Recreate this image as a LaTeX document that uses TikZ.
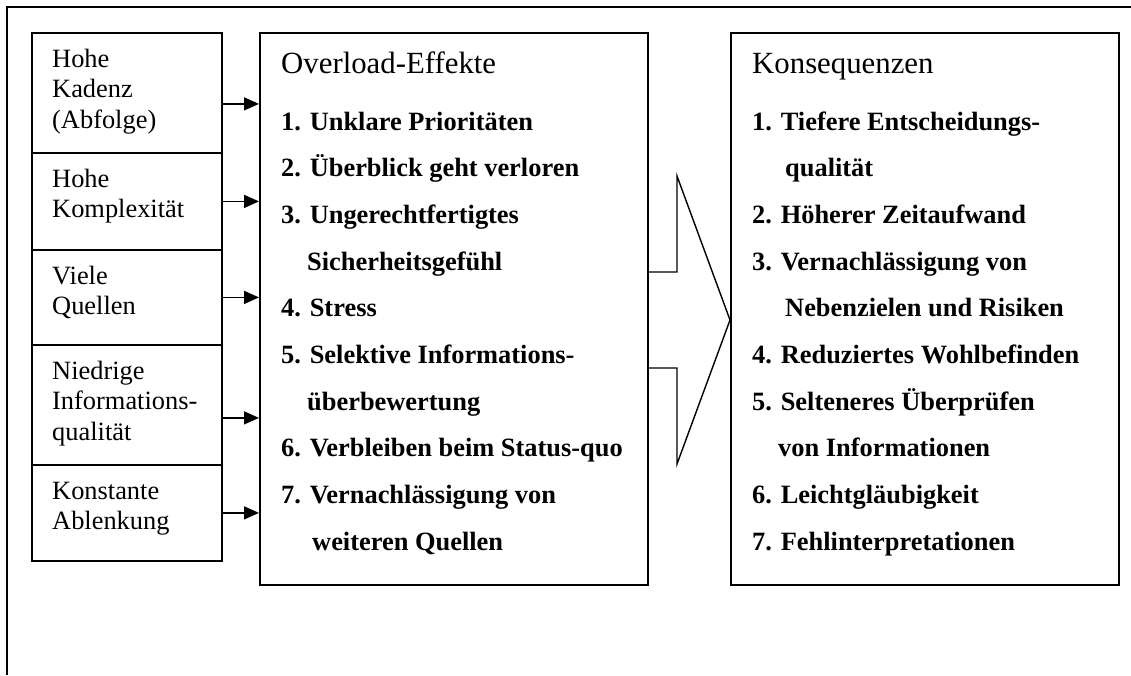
\documentclass[tikz,border=0pt]{standalone}
\usepackage{fontspec}
\setmainfont{Liberation Serif}
\usetikzlibrary{arrows.meta}
\begin{document}
\begin{tikzpicture}[x=1pt,y=-1pt,
  box/.style={draw,line width=1.8pt,inner sep=0pt,anchor=north west},
  cause/.style={anchor=base west,inner sep=0pt,font=\fontsize{26.4}{30}\selectfont},
  head/.style={anchor=base west,inner sep=0pt,font=\fontsize{30.8}{36}\selectfont},
  item/.style={anchor=base west,inner sep=0pt,font=\bfseries\fontsize{26.4}{30}\selectfont},
  feed/.style={line width=1.4pt,-{Triangle[length=15pt,width=13pt]}},
  frame/.style={line width=2pt},
  bigarrow/.style={line width=1.4pt,line join=miter}]
\useasboundingbox (0,0) rectangle (1131,675);

% outer frame (top and left edge)
\draw[frame] (7,675) -- (7,7) -- (1131,7);

% cause boxes
\node[box,minimum width=190pt,minimum height=120pt] (c1) at (31,32) {};
\node[box,minimum width=190pt,minimum height=97pt]  (c2) at (31,152) {};
\node[box,minimum width=190pt,minimum height=95pt]  (c3) at (31,249) {};
\node[box,minimum width=190pt,minimum height=120pt] (c4) at (31,344) {};
\node[box,minimum width=190pt,minimum height=96pt]  (c5) at (31,464) {};

\node[cause] (c1a) at (52,67)  {Hohe};
\node[cause] (c1b) at (52,97.5) {Kadenz};
\node[cause] (c1c) at (52,128) {(Abfolge)};
\node[cause] (c2a) at (52,187) {Hohe};
\node[cause] (c2b) at (52,217.5) {Komplexität};
\node[cause] (c3a) at (52,284) {Viele};
\node[cause] (c3b) at (52,314.5) {Quellen};
\node[cause] (c4a) at (52,379) {Niedrige};
\node[cause] (c4b) at (52,409.5) {Informations-};
\node[cause] (c4c) at (52,440) {qualität};
\node[cause] (c5a) at (52,499) {Konstante};
\node[cause] (c5b) at (52,529.5) {Ablenkung};

% effects and consequences boxes
\node[box,minimum width=388pt,minimum height=552pt] (eff) at (259,32) {};
\node[box,minimum width=388pt,minimum height=552pt] (kon) at (730,32) {};

\node[head] (effh) at (281,73) {Overload-Effekte};
\node[item] (e1)  at (281,130)   {1. Unklare Prioritäten};
\node[item] (e2)  at (281,176.7) {2. Überblick geht verloren};
\node[item] (e3)  at (281,223.4) {3. Ungerechtfertigtes};
\node[item] (e3b) at (307,270.1) {Sicherheitsgefühl};
\node[item] (e4)  at (281,316.8) {4. Stress};
\node[item] (e5)  at (281,363.5) {5. Selektive Informations-};
\node[item] (e5b) at (307,410.2) {überbewertung};
\node[item] (e6)  at (281,456.9) {6. Verbleiben beim Status-quo};
\node[item] (e7)  at (281,503.6) {7. Vernachlässigung von};
\node[item] (e7b) at (312,550.3) {weiteren Quellen};

\node[head] (konh) at (752,73) {Konsequenzen};
\node[item] (k1)  at (752,130)   {1. Tiefere Entscheidungs-};
\node[item] (k1b) at (785,176.7) {qualität};
\node[item] (k2)  at (752,223.4) {2. Höherer Zeitaufwand};
\node[item] (k3)  at (752,270.1) {3. Vernachlässigung von};
\node[item] (k3b) at (785,316.8) {Nebenzielen und Risiken};
\node[item] (k4)  at (752,363.5) {4. Reduziertes Wohlbefinden};
\node[item] (k5)  at (752,410.2) {5. Selteneres Überprüfen};
\node[item] (k5b) at (778,456.9) {von Informationen};
\node[item] (k6)  at (752,503.6) {6. Leichtgläubigkeit};
\node[item] (k7)  at (752,550.3) {7. Fehlinterpretationen};

% arrows from causes to effects
\draw[feed] ([yshift=-11pt]c1.east) -- ([yshift=-11pt]c1.east -| eff.west);
\draw[feed] (c2.east) -- (c2.east -| eff.west);
\draw[feed] (c3.east) -- (c3.east -| eff.west);
\draw[feed] ([yshift=-13pt]c4.east) -- ([yshift=-13pt]c4.east -| eff.west);
\draw[feed] (c5.east) -- (c5.east -| eff.west);

% block arrow from effects to consequences
\draw[bigarrow] (647,272) -- (677,272) -- (677,176) -- (730,320)
  -- (677,464) -- (677,368) -- (647,368);
\end{tikzpicture}
\end{document}
